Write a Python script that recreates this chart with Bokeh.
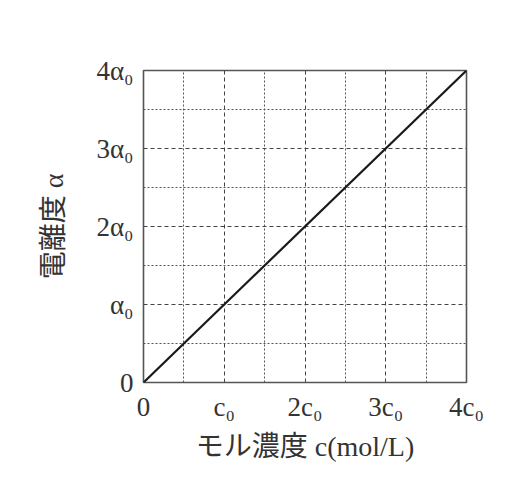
from bokeh.plotting import figure
from bokeh.models import Range1d, FixedTicker
from bokeh.embed import file_html
from bokeh.resources import INLINE

# data
conc = [0, 4]            # in units of c0
alpha = [0, 4]           # in units of a0
x_ticks = [0, 1, 2, 3, 4]
x_tick_labels = ["0", "c₀", "2c₀", "3c₀", "4c₀"]
y_ticks = [0, 1, 2, 3, 4]
y_tick_labels = ["0", "α₀", "2α₀", "3α₀", "4α₀"]
minor = [0.5, 1.5, 2.5, 3.5]

SERIF = "'Liberation Serif', 'DejaVu Serif', 'Noto Sans CJK JP', serif"

p = figure(width=520, height=484, output_backend="svg", toolbar_location=None,
           x_range=Range1d(0, 4), y_range=Range1d(0, 4))
p.min_border_left = 143
p.min_border_right = 54
p.min_border_top = 70
p.min_border_bottom = 102

p.line(conc, alpha, line_color="#1a1a1a", line_width=2.2)

for ax, ticks, labels in ((p.xaxis[0], x_ticks, x_tick_labels), (p.yaxis[0], y_ticks, y_tick_labels)):
    ax.ticker = FixedTicker(ticks=ticks, minor_ticks=minor)
    ax.major_label_overrides = {t: l for t, l in zip(ticks, labels)}
    ax.major_label_text_font = SERIF
    ax.major_label_text_font_size = "27px"
    ax.major_label_text_color = "#333333"
    ax.major_tick_line_color = None
    ax.minor_tick_line_color = None
    ax.axis_line_color = None
    ax.axis_label_text_font = SERIF
    ax.axis_label_text_font_size = "28px"
    ax.axis_label_text_font_style = "normal"
    ax.axis_label_text_color = "#333333"

p.xaxis.axis_label = "モル濃度 c(mol/L)"
p.yaxis.axis_label = "電離度 α"
p.xaxis.major_label_standoff = 3
p.yaxis.major_label_standoff = 4
p.xaxis.axis_label_standoff = 6
p.yaxis.axis_label_standoff = 24

for g in (p.xgrid[0], p.ygrid[0]):
    g.grid_line_color = "#444444"
    g.grid_line_width = 1
    g.grid_line_dash = "4 3"
    g.minor_grid_line_color = "#555555"
    g.minor_grid_line_width = 1
    g.minor_grid_line_dash = "2 2"

p.outline_line_color = "#555555"
p.outline_line_width = 1.6
p.background_fill_color = "white"
p.border_fill_color = "white"

open("out.html", "w").write(file_html(p, INLINE))
